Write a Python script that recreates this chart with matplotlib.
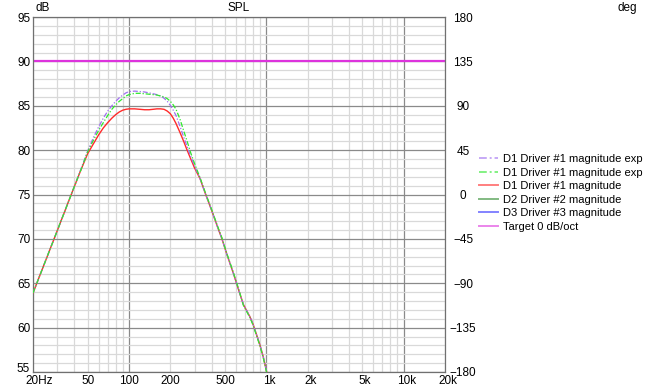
import numpy as np
import matplotlib
matplotlib.use("Agg")
import matplotlib.pyplot as plt
from matplotlib import ticker
from matplotlib.transforms import ScaledTranslation

plt.rcParams['font.family'] = ['Liberation Sans', 'DejaVu Sans']

# ---- data ----
freq = [20, 30, 40, 45, 50, 55, 60, 65, 70, 75, 80, 85, 90, 95, 100, 110, 120, 130, 140, 150,
        160, 170, 180, 190, 200, 210, 220, 235, 250, 265, 280, 300, 329, 360, 400, 440, 473,
        520, 576, 630, 681, 720, 761, 800, 828, 870, 900, 950, 1000, 1050]

spl_red = [63.9, 70.9, 75.9, 77.9, 79.6, 80.7, 81.7, 82.5, 83.1, 83.6, 84.0, 84.3, 84.5, 84.6,
           84.65, 84.65, 84.6, 84.55, 84.55, 84.6, 84.65, 84.65, 84.6, 84.4, 84.1, 83.6, 83.0,
           82.0, 81.0, 80.0, 79.1, 78.0, 76.8, 75.1, 73.2, 71.4, 70.1, 68.1, 66.1, 64.2, 62.6,
           61.9, 61.2, 60.4, 59.7, 58.7, 58.0, 56.7, 55.2, 53.7]

spl_exp1 = [63.9, 70.9, 75.9, 78.0, 79.9, 81.4, 82.6, 83.6, 84.4, 85.0, 85.5, 85.9, 86.2, 86.45,
            86.6, 86.65, 86.6, 86.55, 86.45, 86.35, 86.25, 86.1, 85.85, 85.5, 85.05, 84.5, 83.9,
            82.7, 81.5, 80.4, 79.4, 78.2, 76.8, 75.1, 73.2, 71.4, 70.1, 68.1, 66.1, 64.2, 62.6,
            61.9, 61.2, 60.4, 59.7, 58.7, 58.0, 56.7, 55.2, 53.7]

spl_exp2 = [63.9, 70.9, 75.9, 77.9, 79.8, 81.1, 82.2, 83.1, 83.9, 84.6, 85.1, 85.5, 85.8, 86.1,
            86.25, 86.4, 86.4, 86.35, 86.3, 86.25, 86.2, 86.1, 86.0, 85.8, 85.5, 85.1, 84.6,
            83.5, 82.2, 81.0, 79.8, 78.5, 76.9, 75.2, 73.3, 71.5, 70.2, 68.2, 66.2, 64.3, 62.5,
            61.8, 61.1, 60.3, 59.6, 58.6, 57.9, 56.6, 55.1, 53.6]

freq_d2, spl_d2 = [], []
freq_d3, spl_d3 = [], []

freq_target = [20, 20000]
spl_target = [90, 90]

x_ticks = [20, 50, 100, 200, 500, 1000, 2000, 5000, 10000, 20000]
x_labels = ['20Hz', '50', '100', '200', '500', '1k', '2k', '5k', '10k', '20k']
y_ticks = [55, 60, 65, 70, 75, 80, 85, 90, 95]
deg_ticks = [-180, -135, -90, -45, 0, 45, 90, 135, 180]

# ---- figure ----
fig = plt.figure(figsize=(6.47, 3.86), dpi=100)
ax = fig.add_axes([33/647, 14/386, 412/647, 355/386])

ax.plot(freq, spl_exp1, color='#a070f0', lw=0.9, ls=(0, (4, 1.5, 1, 1.5)), zorder=4,
        label='D1 Driver #1 magnitude exp')
ax.plot(freq, spl_exp2, color='#30e830', lw=0.9, ls=(0, (4, 1.5, 1, 1.5)), zorder=4,
        label='D1 Driver #1 magnitude exp')
ax.plot(freq, spl_red, color='#ff2a2a', lw=1.0, zorder=3, label='D1 Driver #1 magnitude')
ax.plot(freq_d2, spl_d2, color='#2e8b2e', lw=1.0, label='D2 Driver #2 magnitude')
ax.plot(freq_d3, spl_d3, color='#3030ff', lw=1.0, label='D3 Driver #3 magnitude')
ax.plot(freq_target, spl_target, color='#dd33dd', lw=1.6, label='Target 0 dB/oct')

ax.set_xscale('log')
ax.set_xlim(20, 20000)
ax.set_ylim(55, 95)

# grid
ax.xaxis.set_major_locator(ticker.FixedLocator([100, 1000, 10000]))
ax.xaxis.set_minor_locator(ticker.LogLocator(base=10, subs=np.arange(2, 10), numticks=20))
ax.yaxis.set_major_locator(ticker.MultipleLocator(5))
ax.yaxis.set_minor_locator(ticker.MultipleLocator(1))
ax.grid(True, which='minor', color='#d9d9d9', lw=0.9)
ax.grid(True, which='major', color='#8a8a8a', lw=0.9)
ax.set_axisbelow(True)
ax.tick_params(which='both', length=0)
ax.xaxis.set_major_formatter(ticker.NullFormatter())
ax.xaxis.set_minor_formatter(ticker.NullFormatter())
ax.yaxis.set_minor_formatter(ticker.NullFormatter())
ax.set_yticks(y_ticks)
ax.tick_params(axis='y', labelsize=8.5, pad=2)
ax.get_yticklabels()[0].set_verticalalignment('baseline')
for s in ax.spines.values():
    s.set_color('#707070')
    s.set_linewidth(0.9)

# x labels, number centred on the frequency
suffix_shift = {'20Hz': 6.5, '1k': 2.5, '2k': 2.5, '5k': 2.5, '10k': 2.5, '20k': 2.5}
for f, lab in zip(x_ticks, x_labels):
    off = ScaledTranslation(suffix_shift.get(lab, 0) / 100, 0, fig.dpi_scale_trans)
    ax.text(f, -0.008, lab, transform=ax.get_xaxis_transform() + off,
            ha='center', va='top', fontsize=8.5)

# right axis (phase)
ax2 = ax.twinx()
ax2.set_ylim(-180, 180)
ax2.set_yticks(deg_ticks)
ax2.tick_params(length=0, labelsize=8.5, pad=13)
for t in ax2.get_yticklabels():
    t.set_horizontalalignment('center')
for s in ax2.spines.values():
    s.set_visible(False)

fig.text(239/647, 1 - 8/386, 'SPL', ha='center', va='center', fontsize=8.5)
fig.text(35/647, 1 - 8/386, 'dB', ha='left', va='center', fontsize=8.5)
fig.text(618/647, 1 - 8/386, 'deg', ha='left', va='center', fontsize=8.5)

leg = ax.legend(loc='upper left', bbox_to_anchor=(479/647, 1 - 154/386),
                bbox_transform=fig.transFigure, frameon=False, fontsize=8,
                handlelength=1.7, handletextpad=0.5, labelspacing=0.32,
                borderaxespad=0, borderpad=0)
for h in leg.get_lines():
    h.set_alpha(0.6)
    h.set_linewidth(1.4)

fig.savefig('out.png', dpi=100)
